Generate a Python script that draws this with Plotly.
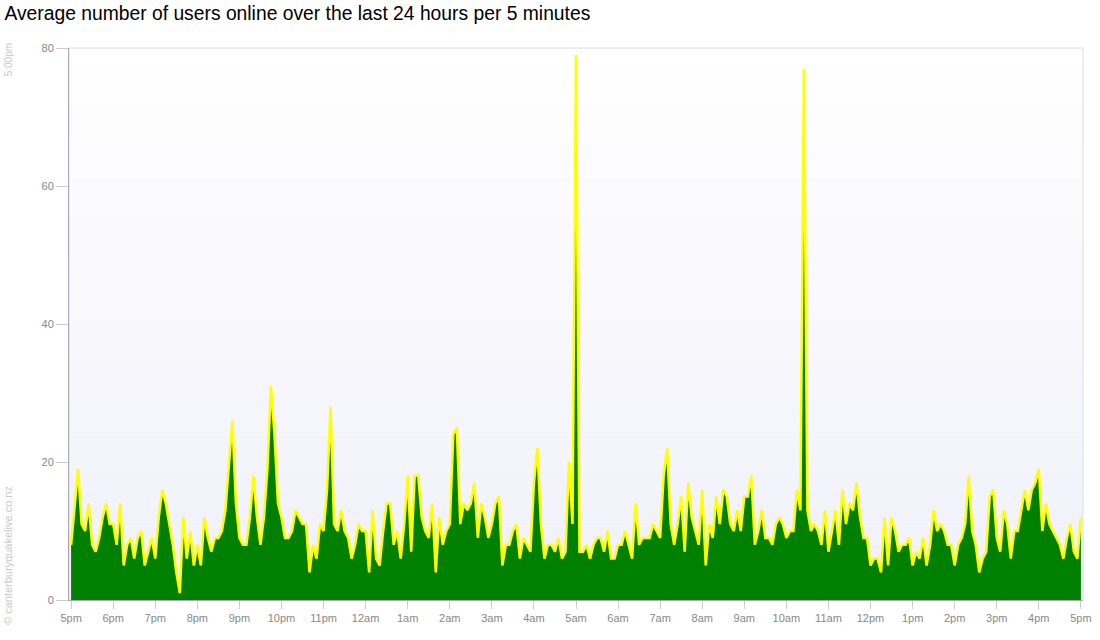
import pandas as pd
import plotly.graph_objects as go

# average users online, one value per 5 minutes, 5pm -> 5pm
users = [
    8, 14, 19, 11, 10, 14, 8, 7, 9, 12, 14, 11,
    11, 8, 14, 5, 8, 9, 6, 9, 10, 5, 7, 9,
    6, 12, 16, 14, 11, 8, 4, 1, 12, 6, 10, 5,
    8, 5, 12, 9, 7, 9, 9, 10, 13, 20, 26, 14,
    9, 8, 8, 12, 18, 12, 8, 12, 19, 31, 24, 14,
    12, 9, 9, 10, 13, 12, 11, 11, 4, 8, 6, 11,
    10, 16, 28, 11, 10, 13, 10, 9, 6, 8, 11, 10,
    10, 4, 13, 6, 5, 10, 14, 14, 8, 10, 6, 11,
    18, 7, 18, 18, 12, 10, 9, 14, 4, 12, 8, 10,
    11, 24, 25, 11, 14, 13, 14, 17, 9, 14, 12, 9,
    11, 14, 15, 5, 8, 8, 10, 11, 6, 9, 8, 7,
    17, 22, 11, 6, 8, 8, 7, 9, 6, 7, 20, 11,
    79, 7, 7, 8, 6, 8, 9, 9, 7, 10, 6, 6,
    8, 8, 10, 8, 6, 14, 8, 9, 9, 9, 11, 10,
    9, 18, 22, 11, 8, 11, 15, 7, 17, 12, 10, 8,
    16, 5, 11, 9, 15, 11, 16, 15, 11, 10, 13, 10,
    15, 15, 18, 8, 10, 13, 9, 9, 8, 11, 12, 11,
    9, 10, 10, 16, 13, 77, 13, 10, 11, 10, 8, 13,
    7, 10, 13, 8, 16, 11, 14, 13, 17, 12, 9, 9,
    5, 6, 6, 4, 12, 5, 12, 10, 7, 8, 8, 9,
    5, 7, 6, 9, 5, 8, 13, 10, 11, 10, 8, 8,
    5, 8, 9, 11, 18, 10, 8, 4, 6, 7, 15, 16,
    9, 7, 13, 11, 6, 10, 10, 13, 16, 13, 16, 17,
    19, 10, 14, 11, 10, 9, 8, 6, 9, 11, 7, 6, 12,
]

hour_labels = ["5pm", "6pm", "7pm", "8pm", "9pm", "10pm", "11pm", "12am",
               "1am", "2am", "3am", "4am", "5am", "6am", "7am", "8am",
               "9am", "10am", "11am", "12pm", "1pm", "2pm", "3pm", "4pm", "5pm"]
y_ticks = [0, 20, 40, 60, 80]

start = pd.Timestamp("2011-09-01 17:00")
times = pd.date_range(start, periods=len(users), freq="5min")
hour_ticks = pd.date_range(start, periods=len(hour_labels), freq="h")
pad = pd.Timedelta(minutes=3)

fig = go.Figure()
fig.add_trace(go.Scatter(
    x=times, y=users, mode="lines",
    line=dict(color="#ffff00", width=2.5),
    fill="tozeroy", fillcolor="#008000",
    hoverinfo="x+y",
))

# soft vertical gradient behind the plot
n_bands = 30
for k in range(n_bands):
    t = (k + 0.5) / n_bands
    r = round(240 + 15 * t)
    b = round(250 + 5 * t)
    fig.add_shape(type="rect", xref="x domain", yref="y domain",
                  x0=0, x1=1, y0=k / n_bands, y1=(k + 1) / n_bands,
                  fillcolor=f"rgb({r},{r},{b})", line=dict(width=0),
                  layer="below")
fig.add_shape(type="rect", xref="x domain", yref="y domain",
              x0=0, x1=1, y0=0, y1=1,
              line=dict(color="#dcdce4", width=1), layer="below")

fig.add_annotation(text="5:00pm", xref="paper", yref="paper",
                   x=-0.060, y=0.978, xanchor="center", yanchor="middle",
                   textangle=-90, showarrow=False,
                   font=dict(size=10, color="#c8c8c8"))
fig.add_annotation(text="© canterburyquakelive.co.nz", xref="paper", yref="paper",
                   x=-0.060, y=0.08, xanchor="center", yanchor="middle",
                   textangle=-90, showarrow=False,
                   font=dict(size=11, color="#c8c8c8"))

fig.update_layout(
    width=1100, height=640,
    margin=dict(l=69, r=17, t=48, b=40),
    paper_bgcolor="white", plot_bgcolor="white",
    font=dict(family="Liberation Sans, Arial, sans-serif"),
    showlegend=False,
    title=dict(text="Average number of users online over the last 24 hours per 5 minutes",
               xref="container", x=0.004, xanchor="left",
               yref="container", y=0.98, yanchor="middle",
               font=dict(size=19.3, color="black")),
    xaxis=dict(range=[start - pad, times[-1] + pad],
               tickvals=hour_ticks, ticktext=hour_labels,
               showgrid=False, zeroline=False, automargin=False,
               showline=True, linecolor="#a8a8b0", linewidth=1,
               ticks="outside", ticklen=8, tickcolor="#cccccc",
               tickfont=dict(size=11, color="#888888")),
    yaxis=dict(range=[0, 80], tickvals=y_ticks,
               showgrid=False, zeroline=False, automargin=False,
               showline=True, linecolor="#a8a8b0", linewidth=1,
               ticks="outside", ticklen=12, tickcolor="#cccccc",
               tickfont=dict(size=11, color="#888888")),
)

# the page's default body margin would push the chart 8px in
fig.write_html("out.html", config={"displayModeBar": False},
               post_script="document.body.style.margin='0';")
